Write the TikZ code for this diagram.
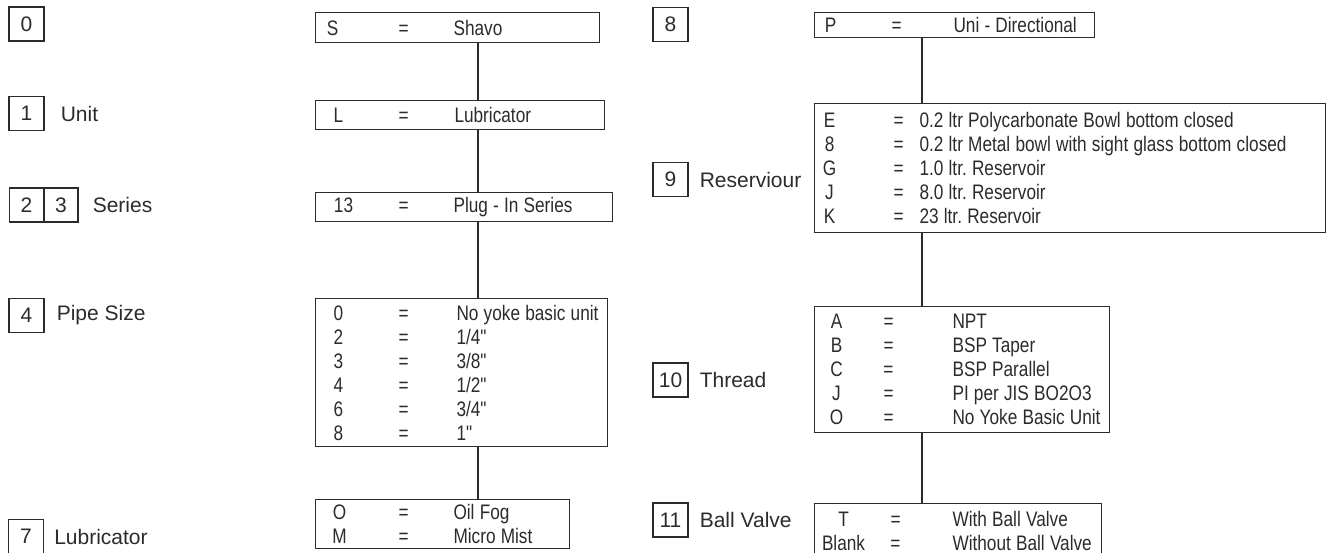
\documentclass[tikz,border=0pt]{standalone}
\usepackage{fontspec}
\setmainfont{Liberation Sans}
\newfontfamily\narrowfont[FakeStretch=0.82]{Liberation Sans}
\usetikzlibrary{positioning}
\definecolor{ink}{HTML}{2B2B2B}
\setlength\parindent{0pt}
\newlength\px \setlength\px{0.75pt}
% sloupce v tabulce kodu: klic, rovnitko, hodnota
\newcommand\cols[3]{\def\keyx{#1}\def\eqx{#2}\def\valx{#3}\spaceskip=3.9pt\relax\xspaceskip=3.9pt\relax}
\newcommand\kv[2]{\makebox[0pt][l]{\hspace*{\keyx\px}\makebox[0pt]{#1}}\makebox[0pt][l]{\hspace*{\eqx\px}\makebox[0pt]{=}}\hspace*{\valx\px}#2}

\tikzset{
  numbox/.style={draw=ink, line width=0.8pt, minimum width=26.25pt, minimum height=25.5pt, inner sep=0pt, text=ink, font=\fontsize{15.75}{18}\selectfont},
  lbl/.style={inner sep=0pt, text=ink, font=\fontsize{15.75}{18}\selectfont},
  codebox/.style 2 args={draw=ink, line width=0.8pt, anchor=north west, inner sep=0pt, align=left, text width=#1, minimum height=#2, text=ink, font=\narrowfont\fontsize{15.75}{18}\selectfont},
  link/.style={draw=ink, line width=0.8pt}
}

\begin{document}
\begin{tikzpicture}[x=0.75pt, y=-0.75pt]
  \clip (0,0) rectangle (1329,553);

  % pozice kodu - leva strana
  \node[numbox] (n0) at (26.5,24) {0};
  \node[numbox] (n1) at (26.5,113.5) {1};
  \node[numbox, minimum width=25.5pt] (n2) at (26.5,205) {2};
  \node[numbox, minimum width=25.5pt] (n3) at (61,205) {3};
  \node[numbox] (n4) at (26.5,315.5) {4};
  \node[numbox] (n7) at (26,536.5) {7};

  \node[lbl, right=12pt of n1] (unit) {Unit};
  \node[lbl, right=10.5pt of n3] (series) {Series};
  \node[lbl, right=9pt of n4] (pipe) {Pipe Size};
  \node[lbl, right=7.5pt of n7] (lubr) {Lubricator};

  % pozice kodu - prava strana
  \node[numbox] (n8) at (670.5,24.5) {8};
  \node[numbox] (n9) at (670.5,179.5) {9};
  \node[numbox] (n10) at (670.5,380) {10};
  \node[numbox] (n11) at (670.5,520) {11};

  \node[lbl, right=8.25pt of n9] (res) {Reserviour};
  \node[lbl, right=8.25pt of n10] (thread) {Thread};
  \node[lbl, right=8.25pt of n11] (valve) {Ball Valve};

  % stredni vetev
  \coordinate (spineL) at (478,0);
  \node[codebox={213pt}{22.5pt}] (S) at (315,12) {\cols{17}{88}{138}\kv{S}{Shavo}};
  \node[codebox={216.75pt}{21.75pt}] (L) at (315,100) {\cols{23}{88}{139}\kv{L}{Lubricator}};
  \node[codebox={222.75pt}{21.75pt}] (ser) at (315,192) {\cols{28}{88}{138}\kv{13}{Plug - In Series}};
  \node[codebox={219pt}{111pt}] (size) at (315,298) {\cols{23}{88}{141}\kv{0}{No yoke basic unit}\\
    \kv{2}{1/4"}\\ \kv{3}{3/8"}\\ \kv{4}{1/2"}\\ \kv{6}{3/4"}\\ \kv{8}{1"}};
  \node[codebox={190.5pt}{36.75pt}] (lub) at (315,499) {\cols{24}{88}{138}\kv{O}{Oil Fog}\\ \kv{M}{Micro Mist}};

  % prava vetev
  \coordinate (spineR) at (922,0);
  \node[codebox={210pt}{18.75pt}] (P) at (814,12) {\cols{16}{82}{139}\kv{P}{Uni - Directional}};
  \node[codebox={383.25pt}{96.75pt}] (bowl) at (814,103) {\cols{15}{84}{105}\kv{E}{0.2 ltr Polycarbonate Bowl bottom closed}\\
    \kv{8}{0.2 ltr Metal bowl with sight glass bottom closed}\\
    \kv{G}{1.0 ltr. Reservoir}\\ \kv{J}{8.0 ltr. Reservoir}\\ \kv{K}{23 ltr. Reservoir}};
  \node[codebox={221.25pt}{94.5pt}] (thr) at (814,306) {\cols{22}{74}{138}\kv{A}{NPT}\\ \kv{B}{BSP Taper}\\
    \kv{C}{BSP Parallel}\\ \kv{J}{PI per JIS BO2O3}\\ \kv{O}{No Yoke Basic Unit}};
  \node[codebox={215.25pt}{41.25pt}] (ball) at (814,503) {\cols{29}{81}{138}\kv{T}{With Ball Valve}\\ \kv{Blank}{Without Ball Valve}};

  % spojnice
  \draw[link] (S.south -| spineL) -- (L.north -| spineL);
  \draw[link] (L.south -| spineL) -- (ser.north -| spineL);
  \draw[link] (ser.south -| spineL) -- (size.north -| spineL);
  \draw[link] (size.south -| spineL) -- (lub.north -| spineL);
  \draw[link] (P.south -| spineR) -- (bowl.north -| spineR);
  \draw[link] (bowl.south -| spineR) -- (thr.north -| spineR);
  \draw[link] (thr.south -| spineR) -- (ball.north -| spineR);
\end{tikzpicture}
\end{document}
